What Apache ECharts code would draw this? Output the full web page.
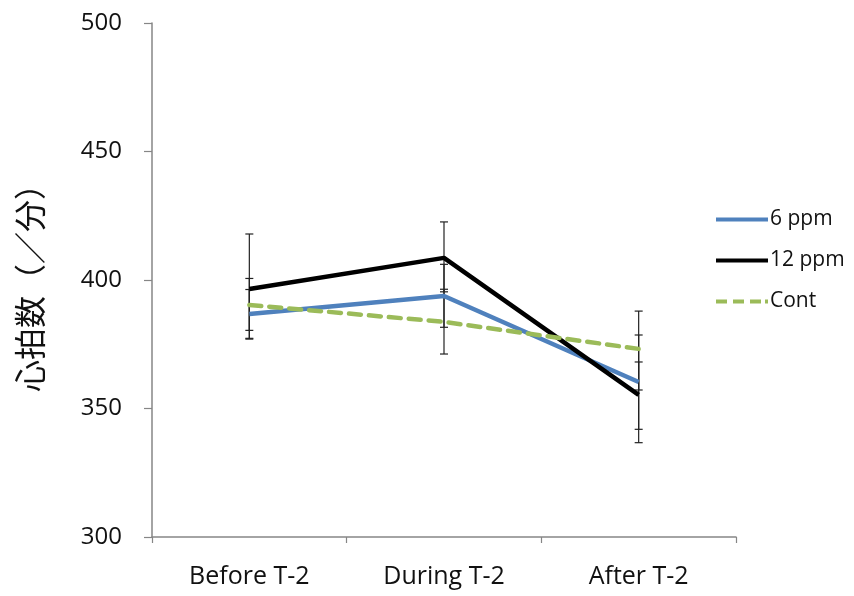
<!DOCTYPE html>
<html><head><meta charset="utf-8">
<script src="https://cdn.jsdelivr.net/npm/echarts@6/dist/echarts.min.js"></script>
<style>html,body{margin:0;padding:0;background:#fff}#c{width:854px;height:596px}</style>
</head><body><div id="c"></div>
<script>
var categories = ['Before T-2', 'During T-2', 'After T-2'];
var seriesNames = ['6 ppm', '12 ppm', 'Cont'];
var ppm6 = [386.8, 393.8, 360.3];
var ppm12 = [396.5, 408.6, 355.3];
var cont = [390.3, 383.7, 373.2];
var ppm6Low = [377.3, 381.6, 341.9];
var ppm6High = [396.3, 406.1, 378.6];
var ppm12Low = [377.0, 395.4, 336.7];
var ppm12High = [417.9, 422.6, 368.1];
var contLow = [380.4, 371.2, 357.2];
var contHigh = [400.6, 396.4, 387.9];
var yTicks = [300, 350, 400, 450, 500];

var font = "'Open Sans','Liberation Sans',sans-serif";
var chart = echarts.init(document.getElementById('c'));

function errData(low, high) {
  return categories.map(function (c, i) { return [i, low[i], high[i]]; });
}
function errSeries(low, high) {
  return {
    type: 'custom',
    silent: true,
    z: 1,
    data: errData(low, high),
    renderItem: function (params, api) {
      var x = api.value(0);
      var lo = api.coord([x, api.value(1)]);
      var hi = api.coord([x, api.value(2)]);
      var w = 4;
      var st = { stroke: '#222', lineWidth: 1.2 };
      return {
        type: 'group',
        children: [
          { type: 'line', shape: { x1: lo[0], y1: lo[1], x2: hi[0], y2: hi[1] }, style: st },
          { type: 'line', shape: { x1: lo[0] - w, y1: lo[1], x2: lo[0] + w, y2: lo[1] }, style: st },
          { type: 'line', shape: { x1: hi[0] - w, y1: hi[1], x2: hi[0] + w, y2: hi[1] }, style: st }
        ]
      };
    }
  };
}

var dashIcon = 'path://M0,0h11v4h-11z M17,0h11v4h-11z M34,0h11v4h-11z M49,0h3v4h-3z';

chart.setOption({
  animation: false,
  backgroundColor: '#fff',
  grid: { left: 152, right: 118, top: 23, bottom: 59, containLabel: false, outerBoundsMode: 'none' },
  legend: {
    data: [
      { name: seriesNames[0], icon: 'rect' },
      { name: seriesNames[1], icon: 'rect' },
      { name: seriesNames[2], icon: dashIcon }
    ],
    orient: 'vertical',
    left: 711,
    top: 204,
    itemWidth: 52,
    itemHeight: 4,
    itemGap: 20,
    textStyle: { fontFamily: font, fontSize: 21, color: '#111', padding: [0, 0, 0, -3] }
  },
  xAxis: {
    type: 'category',
    data: categories,
    boundaryGap: true,
    axisLine: { lineStyle: { color: '#868686', width: 1.5 } },
    axisTick: { show: true, length: 6, lineStyle: { color: '#868686', width: 1.2 } },
    axisLabel: { fontFamily: font, fontSize: 25, color: '#111', margin: 27 },
    splitLine: { show: false }
  },
  yAxis: {
    type: 'value',
    min: 300, max: 500, interval: 50,
    name: '心拍数（／分）',
    nameLocation: 'middle',
    nameGap: 106,
    nameRotate: 90,
    nameTextStyle: { fontFamily: "'Noto Sans CJK JP',sans-serif", fontSize: 32, color: '#111' },
    axisLine: { show: true, lineStyle: { color: '#868686', width: 1.5 } },
    axisTick: { show: true, length: 8, inside: false, lineStyle: { color: '#868686', width: 1.2 } },
    axisLabel: { fontFamily: font, fontSize: 24, color: '#111', margin: 30,
      formatter: function (v) { return yTicks.indexOf(v) >= 0 ? String(v) : ''; } },
    splitLine: { show: false }
  },
  series: [
    errSeries(ppm6Low, ppm6High),
    errSeries(ppm12Low, ppm12High),
    errSeries(contLow, contHigh),
    { name: seriesNames[0], type: 'line', data: ppm6, symbol: 'none', z: 3,
      itemStyle: { color: '#4F81BD' }, lineStyle: { color: '#4F81BD', width: 4.5 } },
    { name: seriesNames[1], type: 'line', data: ppm12, symbol: 'none', z: 4,
      itemStyle: { color: '#000' }, lineStyle: { color: '#000', width: 4.5 } },
    { name: seriesNames[2], type: 'line', data: cont, symbol: 'none', z: 5,
      itemStyle: { color: '#9BBB59' }, lineStyle: { color: '#9BBB59', width: 4.5, type: [12, 8], cap: 'round' } }
  ]
});
</script></body></html>
